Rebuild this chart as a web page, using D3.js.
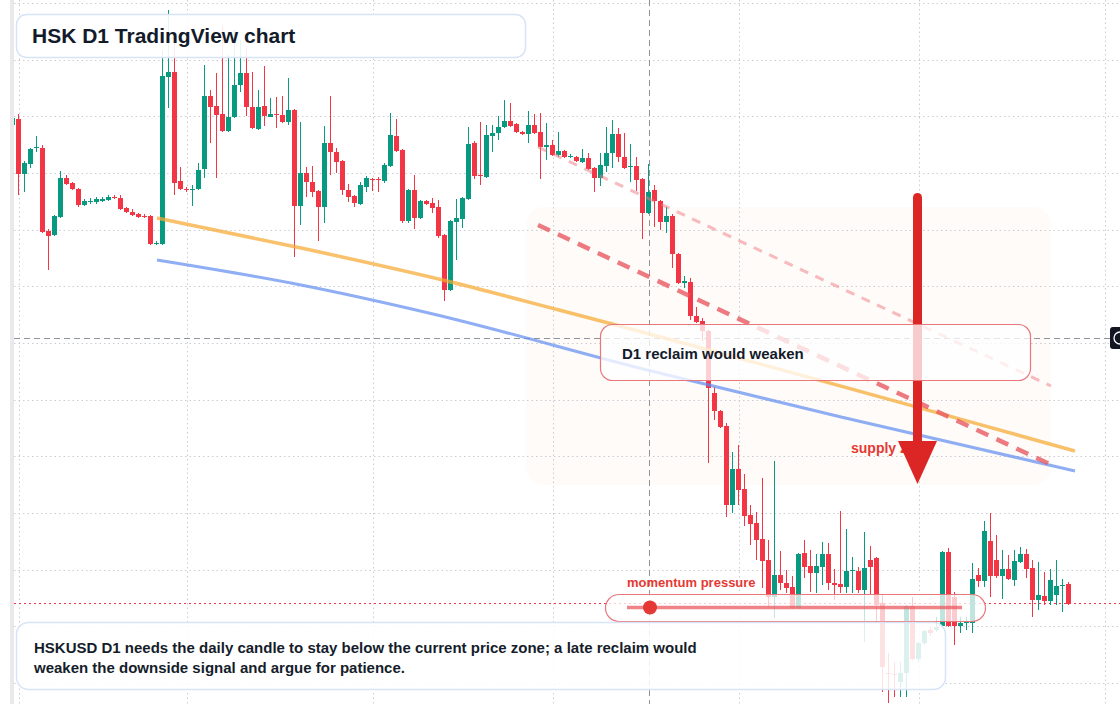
<!DOCTYPE html>
<html>
<head>
<meta charset="utf-8">
<script src="https://cdn.jsdelivr.net/npm/d3@7/dist/d3.min.js"></script>
<style>
    body { margin: 0; background: #ffffff; }
    #chart { width: 1120px; height: 704px; overflow: hidden; }
    #chart text { font-family: "Liberation Sans", Arial, Helvetica, sans-serif; font-weight: bold; }
</style>
</head>
<body>
<div id="chart"></div>
<script>
// HSKUSD daily candles, 2025-01-31 .. 2025-07-26
const firstDay = "2025-01-31";
const lastDay = "2025-07-26";

const openP = [
    1.058,1.064,1.009,1.019,1.035,1.035,0.952,0.948,0.966,1.005,
    1.000,0.994,0.978,0.981,0.981,0.982,0.983,0.986,0.985,0.975,
    0.971,0.969,0.967,0.967,0.939,0.939,1.106,1.111,1.002,0.994,
    0.993,0.994,1.014,1.087,1.077,1.069,1.052,1.066,1.098,1.110,
    1.076,1.054,1.077,1.066,1.069,1.068,1.061,1.073,0.977,1.010,
    1.001,0.992,0.976,1.040,1.031,1.022,0.993,0.987,0.979,0.996,
    1.004,1.004,1.002,1.017,1.047,1.033,0.962,0.993,0.965,0.982,
    0.980,0.976,0.948,0.893,0.961,0.964,0.984,1.040,1.008,1.006,
    1.047,1.050,1.056,1.062,1.059,1.051,1.049,1.058,1.051,1.036,
    1.038,1.028,1.032,1.026,1.026,1.021,1.025,1.015,1.005,1.017,
    1.030,1.049,1.026,1.016,1.017,1.004,0.970,0.993,0.982,0.961,
    0.967,0.929,0.900,0.901,0.867,0.862,0.852,0.790,0.772,0.757,
    0.678,0.714,0.694,0.668,0.660,0.644,0.623,0.586,0.608,0.600,
    0.596,0.575,0.630,0.617,0.610,0.616,0.629,0.600,0.599,0.596,
    0.612,0.612,0.593,0.623,0.625,0.580,0.510,0.509,0.501,0.510,
    0.577,0.524,0.540,0.553,0.553,0.557,0.631,0.586,0.557,0.560,
    0.560,0.608,0.602,0.642,0.623,0.607,0.614,0.603,0.621,0.629,
    0.615,0.583,0.587,0.582,0.588,0.597,0.599
];
const highP = [
    1.067,1.069,1.022,1.035,1.047,1.038,0.954,0.968,1.012,1.008,
    1.001,0.995,0.984,0.985,0.986,0.986,0.988,0.988,0.988,0.976,
    0.974,0.970,0.969,0.968,0.942,1.133,1.173,1.143,1.016,0.996,
    0.998,1.020,1.118,1.093,1.110,1.158,1.128,1.153,1.143,1.135,
    1.111,1.093,1.117,1.085,1.086,1.087,1.105,1.074,1.061,1.016,
    1.017,0.993,1.057,1.087,1.035,1.023,0.999,0.988,1.001,1.007,
    1.005,1.006,1.020,1.070,1.064,1.034,0.994,1.008,0.983,0.983,
    0.985,0.983,0.949,0.963,0.984,0.986,1.056,1.042,1.061,1.058,
    1.058,1.067,1.083,1.080,1.060,1.052,1.072,1.069,1.070,1.060,
    1.043,1.051,1.033,1.029,1.027,1.034,1.030,1.016,1.030,1.056,
    1.063,1.055,1.050,1.039,1.026,1.005,1.019,0.998,0.983,0.976,
    0.969,0.930,0.907,0.905,0.876,0.865,0.853,0.796,0.773,0.760,
    0.731,0.738,0.709,0.678,0.671,0.705,0.643,0.722,0.632,0.613,
    0.607,0.630,0.643,0.633,0.629,0.641,0.640,0.614,0.672,0.654,
    0.626,0.616,0.651,0.637,0.626,0.588,0.530,0.521,0.521,0.578,
    0.586,0.541,0.553,0.556,0.566,0.632,0.635,0.591,0.566,0.566,
    0.620,0.615,0.662,0.670,0.648,0.633,0.628,0.633,0.636,0.634,
    0.623,0.621,0.611,0.614,0.623,0.604,0.601
];
const lowP = [
    1.056,0.988,0.991,1.015,1.031,0.950,0.913,0.947,0.965,0.998,
    0.993,0.976,0.977,0.979,0.979,0.981,0.982,0.984,0.973,0.970,
    0.967,0.965,0.965,0.938,0.938,0.938,1.075,0.988,0.993,0.991,
    0.977,0.993,1.005,1.040,1.005,1.051,1.051,1.065,1.091,1.067,
    1.054,1.053,1.057,1.066,1.055,1.060,1.058,0.926,0.958,0.986,
    0.986,0.942,0.960,1.008,1.010,0.988,0.981,0.976,0.978,0.991,
    0.992,0.991,1.000,1.016,1.031,0.960,0.960,0.954,0.964,0.978,
    0.970,0.945,0.882,0.892,0.923,0.955,0.983,1.004,0.998,1.005,
    1.031,1.043,1.055,1.056,1.050,1.048,1.040,1.049,1.004,1.023,
    1.027,1.026,1.025,1.025,1.021,1.020,1.013,0.991,0.997,1.011,
    1.015,1.021,1.014,1.001,0.992,0.944,0.969,0.956,0.953,0.950,
    0.915,0.899,0.895,0.863,0.860,0.842,0.720,0.763,0.755,0.666,
    0.670,0.678,0.657,0.638,0.623,0.595,0.576,0.565,0.593,0.590,
    0.574,0.574,0.605,0.591,0.590,0.598,0.593,0.583,0.590,0.590,
    0.590,0.590,0.541,0.588,0.560,0.491,0.480,0.486,0.486,0.486,
    0.523,0.521,0.538,0.547,0.551,0.555,0.556,0.538,0.550,0.553,
    0.550,0.596,0.596,0.586,0.605,0.584,0.603,0.597,0.620,0.605,
    0.566,0.573,0.578,0.578,0.578,0.571,0.578
];
const closeP = [
    1.065,1.009,1.020,1.034,1.036,0.951,0.947,0.967,1.005,0.999,
    0.994,0.978,0.982,0.982,0.984,0.984,0.986,0.985,0.974,0.971,
    0.968,0.966,0.966,0.939,0.940,1.107,1.111,1.000,0.994,0.993,
    0.994,1.013,1.087,1.076,1.068,1.052,1.066,1.098,1.110,1.076,
    1.055,1.076,1.067,1.069,1.068,1.061,1.073,0.977,1.010,1.001,
    0.991,0.976,1.040,1.031,1.021,0.993,0.986,0.980,0.998,1.005,
    1.003,1.003,1.018,1.048,1.032,0.962,0.993,0.965,0.982,0.979,
    0.975,0.947,0.893,0.962,0.965,0.985,1.039,1.007,1.007,1.048,
    1.050,1.056,1.062,1.057,1.051,1.049,1.058,1.050,1.036,1.038,
    1.028,1.032,1.026,1.027,1.022,1.025,1.014,1.005,1.018,1.030,
    1.049,1.026,1.015,1.017,1.003,0.970,0.991,0.982,0.961,0.967,
    0.929,0.900,0.902,0.867,0.861,0.852,0.795,0.772,0.756,0.678,
    0.714,0.693,0.667,0.659,0.643,0.622,0.586,0.608,0.600,0.595,
    0.575,0.629,0.616,0.610,0.617,0.629,0.600,0.598,0.596,0.612,
    0.613,0.593,0.615,0.616,0.578,0.516,0.509,0.508,0.510,0.577,
    0.524,0.540,0.552,0.550,0.556,0.631,0.557,0.557,0.560,0.561,
    0.604,0.602,0.652,0.607,0.607,0.614,0.604,0.622,0.629,0.614,
    0.583,0.588,0.582,0.603,0.597,0.598,0.579
];

// price levels of the dotted grid
const gridPrices = [0.500,0.557,0.613,0.670,0.727,0.783,0.840,0.897,0.953,1.010,1.067,1.123,1.180];

// drawings on the chart: [date, price]
const orangeTrend = [["2025-02-24",0.965],["2025-03-20",0.935],["2025-04-14",0.901],["2025-05-02",0.873],["2025-07-27",0.732]];
const blueTrend = [["2025-02-24",0.923],["2025-03-20",0.898],["2025-04-11",0.869],["2025-05-16",0.814],["2025-06-18",0.766],["2025-07-27",0.712]];
const upperDashed = [["2025-04-28T12:00:00Z",1.036],["2025-07-23",0.797]];
const lowerDashed = [["2025-04-28T12:00:00Z",0.958],["2025-07-23T12:00:00Z",0.717]];
const supplyZone = {from: "2025-04-26T12:00:00Z", to: "2025-07-23", top: 0.976, bottom: 0.698};
const arrowMark = {date: "2025-06-30T18:00:00Z", from: 0.990, to: 0.699};
const crosshair = {date: "2025-05-17", price: 0.845};

const titleText = "HSK D1 TradingView chart";
const reclaimText = "D1 reclaim would weaken";
const supplyText = "supply zone";
const momentumText = "momentum pressure";
const noteLines = [
    "HSKUSD D1 needs the daily candle to stay below the current price zone; a late reclaim would",
    "weaken the downside signal and argue for patience."
];

class CandleChart {
    constructor(parentElementID) {
        this.parentElementID = parentElementID;
    }

    initVis() {
        let vis = this;
        vis.width = 1120;
        vis.height = 704;
        vis.plotLeft = 14;

        vis.svg = d3.select("#" + vis.parentElementID).append("svg")
            .attr("width", vis.width)
            .attr("height", vis.height);

        vis.svg.append("defs").append("clipPath")
            .attr("id", "plot-clip")
            .append("rect")
            .attr("x", vis.plotLeft).attr("y", 0)
            .attr("width", vis.width - vis.plotLeft).attr("height", vis.height);

        vis.xScale = d3.scaleUtc()
            .domain([new Date(firstDay), new Date(lastDay)])
            .range([13, 1069]);

        vis.yScale = d3.scaleLinear()
            .domain([0.5, 1.18])
            .range([683, 3]);

        vis.plot = vis.svg.append("g").attr("clip-path", "url(#plot-clip)");

        vis.green = "#089981";
        vis.red = "#f23645";
    }

    updateVis() {
        let vis = this;
        let x = d => vis.xScale(new Date(d));
        let y = p => vis.yScale(p);

        let days = d3.utcDay.range(new Date(firstDay), d3.utcDay.offset(new Date(lastDay), 1));
        let data = days.map((d, i) => ({
            date: d, open: openP[i], high: highP[i], low: lowP[i], close: closeP[i]
        }));

        // supply zone shading
        vis.plot.append("rect")
            .attr("x", x(supplyZone.from))
            .attr("y", y(supplyZone.top))
            .attr("width", x(supplyZone.to) - x(supplyZone.from))
            .attr("height", y(supplyZone.bottom) - y(supplyZone.top))
            .attr("rx", 18)
            .attr("fill", "#fefbf8");

        // dotted grid
        vis.plot.append("g").selectAll("line")
            .data(gridPrices)
            .enter().append("line")
            .attr("x1", vis.plotLeft).attr("x2", vis.width)
            .attr("y1", d => Math.round(y(d)) + 0.5)
            .attr("y2", d => Math.round(y(d)) + 0.5)
            .attr("stroke", "#c9ccd3")
            .attr("stroke-dasharray", "1.5 3");

        let months = d3.utcMonth.range(new Date("2025-02-01"), new Date("2025-08-02"));
        vis.plot.append("g").selectAll("line")
            .data(months)
            .enter().append("line")
            .attr("x1", d => Math.round(vis.xScale(d)) + 0.5)
            .attr("x2", d => Math.round(vis.xScale(d)) + 0.5)
            .attr("y1", 0).attr("y2", vis.height)
            .attr("stroke", "#c9ccd3")
            .attr("stroke-dasharray", "1.5 3");

        // crosshair
        vis.plot.append("line")
            .attr("x1", Math.round(x(crosshair.date)) + 0.5)
            .attr("x2", Math.round(x(crosshair.date)) + 0.5)
            .attr("y1", 0).attr("y2", vis.height)
            .attr("stroke", "#8f939c")
            .attr("stroke-dasharray", "6 4");
        vis.plot.append("line")
            .attr("x1", vis.plotLeft).attr("x2", 1110)
            .attr("y1", Math.round(y(crosshair.price)) + 0.5)
            .attr("y2", Math.round(y(crosshair.price)) + 0.5)
            .attr("stroke", "#8f939c")
            .attr("stroke-dasharray", "6 4");

        // last price line
        let lastClose = closeP[closeP.length - 1];
        vis.plot.append("line")
            .attr("x1", vis.plotLeft).attr("x2", vis.width)
            .attr("y1", Math.round(y(lastClose)) - 0.5)
            .attr("y2", Math.round(y(lastClose)) - 0.5)
            .attr("stroke", vis.red)
            .attr("stroke-dasharray", "2 3");

        // candles
        let candles = vis.plot.append("g")
            .attr("shape-rendering", "crispEdges")
            .selectAll(".candle")
            .data(data)
            .enter().append("g")
            .attr("class", "candle")
            .attr("fill", d => d.close >= d.open ? vis.green : vis.red);

        candles.append("rect")
            .attr("x", d => Math.round(vis.xScale(d.date)) - 1)
            .attr("width", 1)
            .attr("y", d => Math.round(y(d.high)))
            .attr("height", d => Math.round(y(d.low)) - Math.round(y(d.high)));

        candles.append("rect")
            .attr("x", d => Math.round(vis.xScale(d.date)) - 3)
            .attr("width", 5)
            .attr("y", d => Math.round(y(Math.max(d.open, d.close))))
            .attr("height", d => Math.max(1, Math.round(Math.abs(y(d.open) - y(d.close)))));

        // trend curves
        let line = d3.line()
            .x(d => x(d[0]))
            .y(d => y(d[1]))
            .curve(d3.curveMonotoneX);

        vis.plot.append("path")
            .attr("d", line(orangeTrend))
            .attr("fill", "none")
            .attr("stroke", "#f6a933")
            .attr("stroke-opacity", 0.72)
            .attr("stroke-width", 3.5);

        vis.plot.append("path")
            .attr("d", line(blueTrend))
            .attr("fill", "none")
            .attr("stroke", "#5f8cf0")
            .attr("stroke-opacity", 0.7)
            .attr("stroke-width", 3);

        vis.plot.append("path")
            .attr("d", line(upperDashed))
            .attr("fill", "none")
            .attr("stroke", "#ef7a82")
            .attr("stroke-opacity", 0.5)
            .attr("stroke-width", 3)
            .attr("stroke-dasharray", "9 8");

        vis.plot.append("path")
            .attr("d", line(lowerDashed))
            .attr("fill", "none")
            .attr("stroke", "#e75a61")
            .attr("stroke-opacity", 0.8)
            .attr("stroke-width", 4.5)
            .attr("stroke-dasharray", "13 9");

        // supply label, partly covered by the arrow head
        vis.svg.append("text")
            .attr("x", 851).attr("y", 453)
            .attr("font-size", 14)
            .attr("fill", "#e53935")
            .text(supplyText);

        // down arrow
        let ax = x(arrowMark.date);
        let headTop = y(arrowMark.to) - 43;
        vis.svg.append("path")
            .attr("d", "M" + (ax - 4.5) + "," + (y(arrowMark.from) + 4.5)
                + " A4.5,4.5 0 0 1 " + (ax + 4.5) + "," + (y(arrowMark.from) + 4.5)
                + " L" + (ax + 4.5) + "," + (headTop + 1)
                + " L" + (ax - 4.5) + "," + (headTop + 1) + " Z")
            .attr("fill", "#dc2626");
        vis.svg.append("path")
            .attr("d", "M" + (ax - 19.5) + "," + headTop + " L" + (ax + 19.5) + "," + headTop
                + " L" + ax + "," + y(arrowMark.to) + " Z")
            .attr("fill", "#dc2626");

        // reclaim callout
        vis.svg.append("rect")
            .attr("x", 600.5).attr("y", 324.5)
            .attr("width", 430).attr("height", 56)
            .attr("rx", 12)
            .attr("fill", "#ffffff").attr("fill-opacity", 0.76)
            .attr("stroke", "#e8777c").attr("stroke-width", 1.2);
        vis.svg.append("text")
            .attr("x", 622).attr("y", 359)
            .attr("font-size", 15)
            .attr("fill", "#131b2b")
            .text(reclaimText);

        // momentum pill
        vis.svg.append("text")
            .attr("x", 627).attr("y", 587)
            .attr("font-size", 13)
            .attr("fill", "#e53935")
            .text(momentumText);
        vis.svg.append("rect")
            .attr("x", 605.5).attr("y", 594.5)
            .attr("width", 380).attr("height", 27)
            .attr("rx", 13.5)
            .attr("fill", "#ffffff").attr("fill-opacity", 0.74)
            .attr("stroke", "#e8777c").attr("stroke-width", 1.2);
        vis.svg.append("line")
            .attr("x1", 627).attr("x2", 962)
            .attr("y1", 607.5).attr("y2", 607.5)
            .attr("stroke", "#ea5a5f").attr("stroke-opacity", 0.75)
            .attr("stroke-width", 3.5);
        vis.svg.append("circle")
            .attr("cx", 650).attr("cy", 607.5).attr("r", 7)
            .attr("fill", "#e53935");

        // note box
        vis.svg.append("rect")
            .attr("x", 16.5).attr("y", 622.5)
            .attr("width", 929).attr("height", 67)
            .attr("rx", 12)
            .attr("fill", "#ffffff").attr("fill-opacity", 0.86)
            .attr("stroke", "#d7e4f7").attr("stroke-width", 1.5);
        vis.svg.append("g").selectAll("text")
            .data(noteLines)
            .enter().append("text")
            .attr("x", 34)
            .attr("y", (d, i) => 653 + i * 20)
            .attr("font-size", 15)
            .attr("fill", "#151d2b")
            .text(d => d);

        // title box
        vis.svg.append("rect")
            .attr("x", 16.5).attr("y", 14.5)
            .attr("width", 509).attr("height", 43)
            .attr("rx", 10)
            .attr("fill", "#ffffff").attr("fill-opacity", 0.9)
            .attr("stroke", "#d7e4f7").attr("stroke-width", 1.5);
        vis.svg.append("text")
            .attr("x", 32).attr("y", 43)
            .attr("font-size", 21)
            .attr("fill", "#131b2b")
            .text(titleText);

        // left edge strip and crosshair price tag
        vis.svg.append("rect")
            .attr("x", 10).attr("y", 0)
            .attr("width", 4).attr("height", vis.height)
            .attr("fill", "#e9e9eb");
        vis.svg.append("rect")
            .attr("x", 1110).attr("y", 327)
            .attr("width", 16).attr("height", 22)
            .attr("rx", 3)
            .attr("fill", "#131722");
        vis.svg.append("circle")
            .attr("cx", 1120).attr("cy", 338).attr("r", 6)
            .attr("fill", "none")
            .attr("stroke", "#ffffff").attr("stroke-width", 1.3);
    }
}

let chart = new CandleChart("chart");
chart.initVis();
chart.updateVis();
</script>
</body>
</html>
